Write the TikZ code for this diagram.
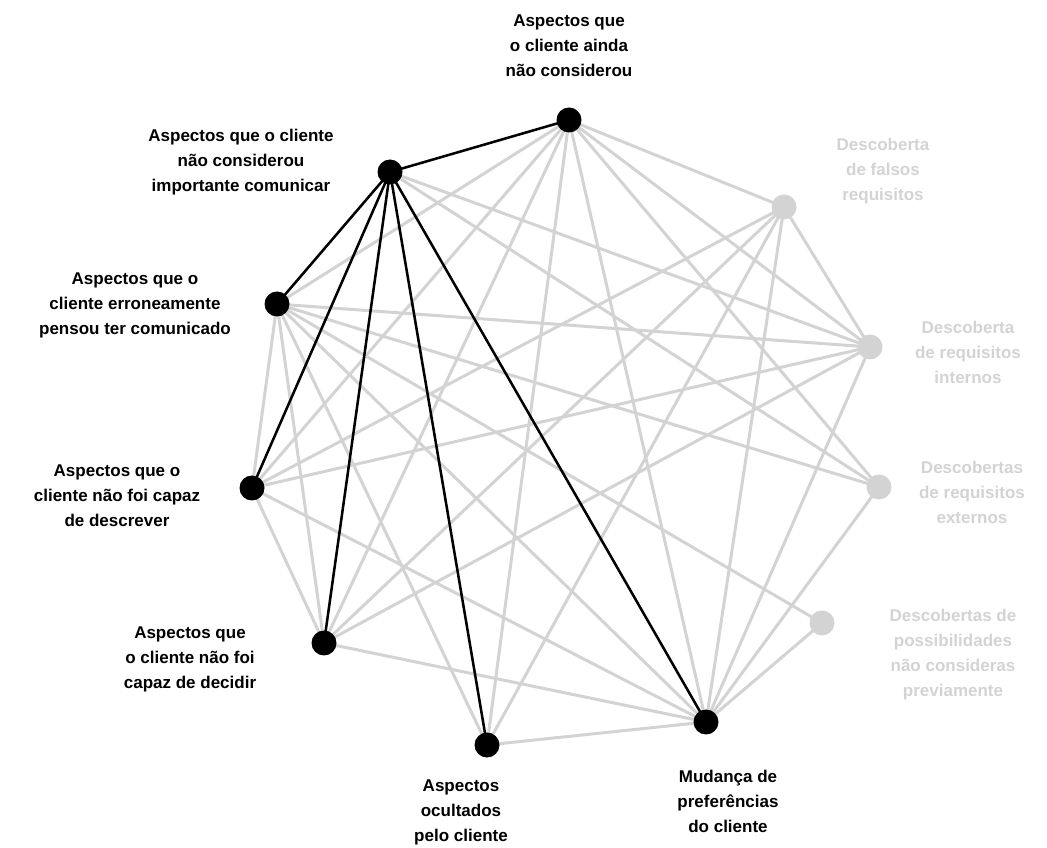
\documentclass[tikz,border=0pt]{standalone}
\usepackage{fontspec}
\setmainfont{Liberation Sans}
\definecolor{lg}{HTML}{D3D3D3}
\begin{document}
\begin{tikzpicture}[x=0.75pt,y=-0.75pt,
  vtx/.style={circle,minimum size=18.75pt,inner sep=0pt},
  blk/.style={vtx,fill=black},
  gry/.style={vtx,fill=lg},
  ge/.style={draw=lg,line width=2.25pt},
  be/.style={draw=black,line width=1.9pt},
  lbl/.style={align=center,font=\fontsize{12.75}{18.75}\selectfont\bfseries,inner sep=0pt},
  glbl/.style={lbl,text=lg}
]
\useasboundingbox (0,0) rectangle (1047,848);
% vertex positions
\coordinate (pA) at (569,120);
\coordinate (pB) at (390,172);
\coordinate (pC) at (277,304);
\coordinate (pD) at (252,488);
\coordinate (pE) at (324,643);
\coordinate (pF) at (487,745);
\coordinate (pG) at (706,722);
\coordinate (pH) at (822,623);
\coordinate (pI) at (879,487);
\coordinate (pJ) at (870,347);
\coordinate (pK) at (784,207);
% gray edges
\foreach \u/\v in {A/C,A/D,A/E,A/F,A/G,A/I,A/J,A/K,
  B/I,B/J,
  C/D,C/E,C/F,C/G,C/H,C/I,C/J,
  D/E,D/G,D/J,D/K,
  E/G,E/J,E/K,
  F/G,F/K,
  G/H,G/I,G/J,G/K,
  J/K}
  \draw[ge] (p\u) -- (p\v);
% black edges
\foreach \v in {A,C,D,E,F,G}
  \draw[be] (pB) -- (p\v);
% vertices
\node[blk] (A) at (pA) {};
\node[blk] (B) at (pB) {};
\node[blk] (C) at (pC) {};
\node[blk] (D) at (pD) {};
\node[blk] (E) at (pE) {};
\node[blk] (F) at (pF) {};
\node[blk] (G) at (pG) {};
\node[gry] (H) at (pH) {};
\node[gry] (I) at (pI) {};
\node[gry] (J) at (pJ) {};
\node[gry] (K) at (pK) {};
% labels
\node[lbl] (lA) at (569,46) {Aspectos que\\o cliente ainda\\não considerou};
\node[lbl] (lB) at (241,162) {Aspectos que o cliente\\não considerou\\importante comunicar};
\node[lbl] (lC) at (135,305) {Aspectos que o\\cliente erroneamente\\pensou ter comunicado};
\node[lbl] (lD) at (117,496) {Aspectos que o\\cliente não foi capaz\\de descrever};
\node[lbl] (lE) at (190,659) {Aspectos que\\o cliente não foi\\capaz de decidir};
\node[lbl] (lF) at (461,812) {Aspectos\\ocultados\\pelo cliente};
\node[lbl] (lG) at (728,801) {Mudança de\\preferências\\do cliente};
\node[glbl] (lH) at (953,655) {Descobertas de\\possibilidades\\não consideras\\previamente};
\node[glbl] (lI) at (972,492) {Descobertas\\de requisitos\\externos};
\node[glbl] (lJ) at (968,352) {Descoberta\\de requisitos\\internos};
\node[glbl] (lK) at (883,171) {Descoberta\\de falsos\\requisitos};
\end{tikzpicture}
\end{document}
